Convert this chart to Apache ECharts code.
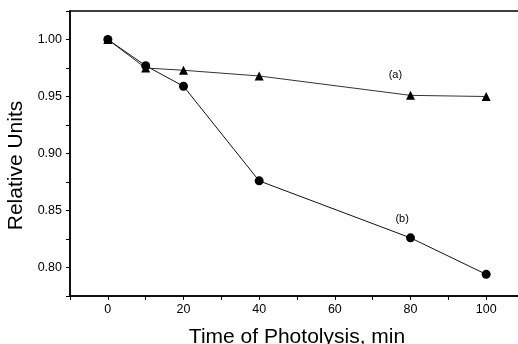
<!DOCTYPE html>
<html>
<head>
<meta charset="utf-8">
<script src="https://cdn.jsdelivr.net/npm/echarts@6/dist/echarts.min.js"></script>
<style>
  html, body { margin: 0; padding: 0; background: #fff; }
  #chart { width: 518px; height: 344px; }
</style>
</head>
<body>
<div id="chart"></div>
<script>
// time of photolysis, min
const times = [0, 10, 20, 40, 80, 100];
// curve (a), triangles
const seriesA = [1.000, 0.975, 0.973, 0.968, 0.951, 0.950];
// curve (b), circles
const seriesB = [1.000, 0.977, 0.959, 0.876, 0.826, 0.794];
// curve labels and where they sit (data coords)
const curveNames = ['(a)', '(b)'];
const labelAt = [[76, 0.9685], [77.8, 0.8424]];

const font = 'Liberation Sans, Arial, sans-serif';

let myChart = echarts.init(document.getElementById('chart'));

function pairs(ys) {
  return times.map((t, i) => [t, ys[i]]);
}

myChart.setOption({
  animation: false,
  grid: {
    left: 70, top: 11, right: -6, bottom: 48,
    outerBoundsMode: 'none',
    containLabel: false,
    show: true, borderColor: '#000', borderWidth: 1.5
  },
  xAxis: {
    type: 'value',
    min: -10, max: 110, interval: 10,
    name: 'Time of Photolysis, min',
    nameLocation: 'middle',
    nameGap: 31,
    nameTextStyle: { fontSize: 21, color: '#000', fontFamily: font },
    axisLine: { onZero: false, lineStyle: { color: '#000', width: 1.5 } },
    axisTick: { length: 4, lineStyle: { color: '#000' } },
    axisLabel: {
      color: '#000', fontSize: 12.5, fontFamily: font, margin: 7,
      formatter: v => (v % 20 === 0 && v >= 0 && v <= 100) ? String(v) : ''
    },
    splitLine: { show: false }
  },
  yAxis: {
    type: 'value',
    min: 0.775, max: 1.025, interval: 0.025,
    name: 'Relative Units',
    nameLocation: 'middle',
    nameGap: 43,
    nameTextStyle: { fontSize: 21, color: '#000', fontFamily: font, padding: [0, 24, 0, 0] },
    axisLine: { onZero: false, lineStyle: { color: '#000', width: 1.5 } },
    axisTick: { length: 4, lineStyle: { color: '#000' } },
    axisLabel: {
      color: '#000', fontSize: 12.5, fontFamily: font, margin: 8,
      formatter: v => (Math.round(v * 1000) % 50 === 0) ? v.toFixed(2) : ''
    },
    splitLine: { show: false }
  },
  series: [
    {
      name: '(a)',
      type: 'line',
      data: pairs(seriesA),
      symbol: 'triangle',
      symbolSize: 9,
      lineStyle: { color: '#333', width: 1 },
      itemStyle: { color: '#000' }
    },
    {
      name: '(b)',
      type: 'line',
      data: pairs(seriesB),
      symbol: 'circle',
      symbolSize: 9,
      lineStyle: { color: '#111', width: 1 },
      itemStyle: { color: '#000' }
    },
    {
      name: 'labels',
      type: 'scatter',
      data: labelAt.map((p, k) => ({ value: p, name: curveNames[k] })),
      symbol: 'rect',
      symbolSize: 1,
      itemStyle: { color: '#fff', opacity: 1 },
      silent: true,
      z: 5,
      label: {
        show: true, position: 'inside', formatter: p => p.name,
        color: '#000', opacity: 1, fontSize: 11, fontWeight: 500, fontFamily: font,
        textBorderWidth: 0, textBorderColor: 'transparent'
      }
    }
  ]
});
</script>
</body>
</html>
